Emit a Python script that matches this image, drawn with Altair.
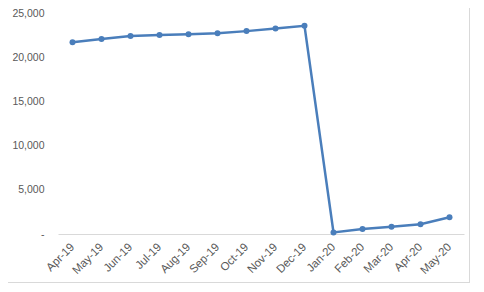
import altair as alt
import pandas as pd

months = ["Apr-19", "May-19", "Jun-19", "Jul-19", "Aug-19", "Sep-19", "Oct-19",
          "Nov-19", "Dec-19", "Jan-20", "Feb-20", "Mar-20", "Apr-20", "May-20"]
values = [21700, 22050, 22400, 22500, 22600, 22700, 22950,
          23250, 23550, 180, 570, 830, 1100, 1890]
y_ticks = [0, 5000, 10000, 15000, 20000, 25000]

df = pd.DataFrame({"month": months, "value": values})

W, H = 406, 221
color = "#4A7EBB"

x_enc = alt.X("month:N", sort=months, title=None,
              scale=alt.Scale(paddingInner=1, paddingOuter=0.5),
              axis=alt.Axis(labelAngle=-45, labelAlign="right", labelBaseline="middle",
                            labelPadding=11, ticks=False, domainColor="#D9D9D9",
                            labelColor="#595959", labelFontSize=11.5,
                            labelFont="Liberation Sans"))
y_enc = alt.Y("value:Q", title=None,
              scale=alt.Scale(domain=[0, 25000], nice=False),
              axis=alt.Axis(values=y_ticks, grid=False, domain=False, ticks=False,
                            labelExpr="datum.value == 0 ? '-' : format(datum.value, ',')",
                            labelColor="#595959", labelFontSize=10.5, labelPadding=14,
                            labelFont="Liberation Sans"))

line = alt.Chart(df).mark_line(color=color, strokeWidth=2.5).encode(x=x_enc, y=y_enc)
pts = alt.Chart(df).mark_point(color=color, filled=True, opacity=1, size=36).encode(
    x=alt.X("month:N", sort=months), y="value:Q")

# chart-area border (right and bottom edges)
border_r = alt.Chart(df).mark_rule(color="#D9D9D9", strokeWidth=1).encode(
    x=alt.value(411.5), y=alt.value(-5), y2=alt.value(270))
border_b = alt.Chart(df).mark_rule(color="#D9D9D9", strokeWidth=1).encode(
    x=alt.value(-50), x2=alt.value(412), y=alt.value(269.5))

chart = alt.layer(line, pts, border_r, border_b).properties(
    width=W, height=H,
    autosize=alt.AutoSizeParams(type="none"),
    padding={"left": 50, "top": 5, "right": 12, "bottom": 50},
    background="white",
).configure_view(stroke=None)

chart.save("out.html", embed_options={"renderer": "svg", "actions": False})
